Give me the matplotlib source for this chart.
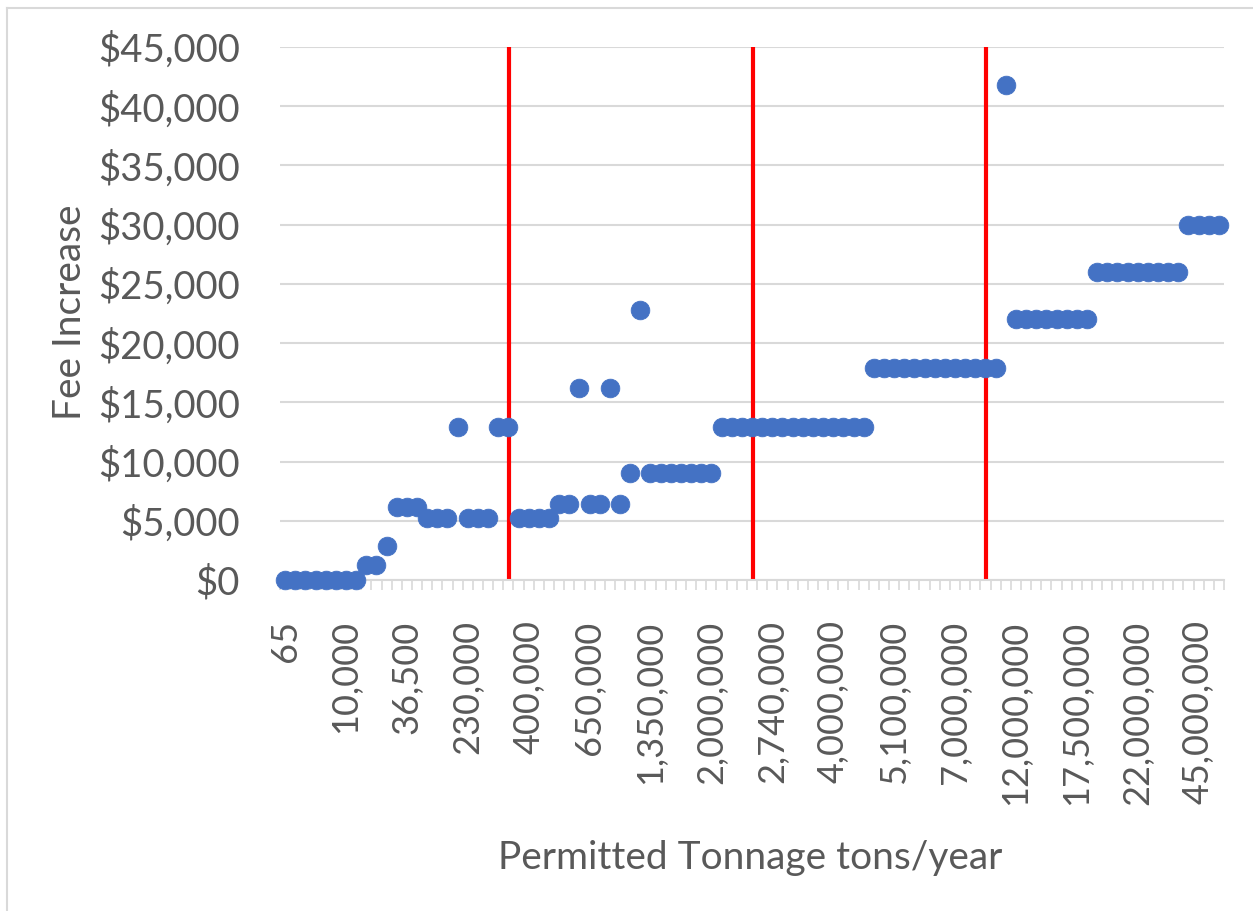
import matplotlib
matplotlib.use("Agg")
import matplotlib.pyplot as plt
from matplotlib.lines import Line2D
from matplotlib.ticker import FuncFormatter, FixedLocator

# fee increase per permitted tonnage category
fee_increase = ([0] * 8 + [1300] * 2 + [2900] + [6200] * 3 + [5200] * 3 + [12900]
                + [5200] * 3 + [12900] * 2 + [5200] * 4 + [6400] * 2 + [16200]
                + [6400] * 2 + [16200] + [6400] + [9000] + [22800] + [9000] * 7
                + [12900] * 15 + [17900] * 13 + [41800] + [22000] * 8
                + [26000] * 9 + [30000] * 4)

# every 6th category is labelled on the axis
tick_labels = ["65", "10,000", "36,500", "230,000", "400,000", "650,000",
               "1,350,000", "2,000,000", "2,740,000", "4,000,000", "5,100,000",
               "7,000,000", "12,000,000", "17,500,000", "22,000,000", "45,000,000"]
label_step = 6

# red divider lines (category positions)
divider_pos = [22.06, 46.06, 69.1]

grey = "#595959"
grid_c = "#D9D9D9"
plt.rcParams['font.family'] = ['Lato', 'DejaVu Sans']

n = len(fee_increase)
x = list(range(n))

fig = plt.figure(figsize=(12.53, 9.11), dpi=100)
ax = fig.add_axes([280 / 1253, (911 - 580) / 911, (1224 - 280) / 1253, (580 - 47) / 911])

ax.set_xlim(-0.5, n - 0.5)
ax.set_ylim(0, 45000)
ax.set_yticks(range(0, 45001, 5000))
ax.yaxis.set_major_formatter(FuncFormatter(lambda v, p: "${:,.0f}".format(v)))
ax.grid(axis='y', color=grid_c, linewidth=1.5)
ax.set_axisbelow(True)

for s in ['top', 'right', 'left']:
    ax.spines[s].set_visible(False)
ax.spines['bottom'].set_color(grid_c)
ax.spines['bottom'].set_linewidth(1.5)

ax.xaxis.set_major_locator(FixedLocator(list(range(0, n, label_step))))
ax.set_xticklabels(tick_labels, rotation=90, va='top', ha='center')
ax.xaxis.set_minor_locator(FixedLocator([i - 0.5 for i in range(n + 1)]))
ax.tick_params(axis='x', which='major', length=0, pad=29, labelsize=26, labelcolor=grey)
ax.tick_params(axis='x', which='minor', length=7, width=1.2, color=grid_c)
ax.tick_params(axis='y', length=0, pad=29, labelsize=27.5, labelcolor=grey)

ax.vlines(divider_pos, 0, 45000, colors='#FF0000', linewidth=3, zorder=2)
ax.scatter(x, fee_increase, s=180, color='#4472C4', edgecolors='#4472C4',
           linewidths=0.6, zorder=3, clip_on=False)

fig.text(70 / 1253, 1 - 312 / 911, "Fee Increase", rotation=90, ha='center',
         va='center', fontsize=28, color=grey)
fig.text(750 / 1253, 1 - 858 / 911, "Permitted Tonnage tons/year", ha='center',
         va='center', fontsize=28, color=grey)

# chart area outline (only top and left edges visible in the crop)
fig.add_artist(Line2D([7 / 1253, 1.0], [1 - 8 / 911, 1 - 8 / 911], color=grid_c, linewidth=1.5))
fig.add_artist(Line2D([7 / 1253, 7 / 1253], [0, 1 - 8 / 911], color=grid_c, linewidth=1.5))

fig.savefig("out.png", dpi=100)
